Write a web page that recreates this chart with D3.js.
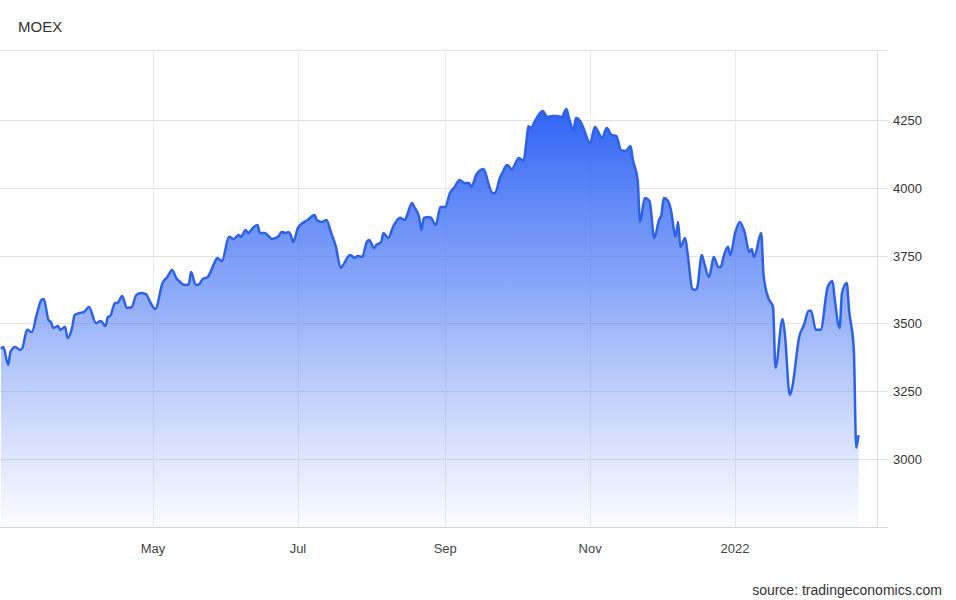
<!DOCTYPE html>
<html>
<head>
<meta charset="utf-8">
<script src="https://cdn.jsdelivr.net/npm/d3@7"></script>
<style>
  html, body { margin: 0; padding: 0; background: #fff; }
  svg { display: block; font-family: "Liberation Sans", Arial, sans-serif; }
</style>
</head>
<body>
<svg id="chart" width="956" height="600"></svg>
<script>
const title = "MOEX";
const sourceText = "source: tradingeconomics.com";

const dates = [
"2021-02-26","2021-02-27","2021-03-01","2021-03-02","2021-03-04","2021-03-06","2021-03-07","2021-03-09","2021-03-11","2021-03-13",
"2021-03-15","2021-03-16","2021-03-18","2021-03-19","2021-03-20","2021-03-22","2021-03-23","2021-03-25","2021-03-26","2021-03-28",
"2021-03-29","2021-03-31","2021-04-02","2021-04-04","2021-04-07","2021-04-09","2021-04-11","2021-04-12","2021-04-13","2021-04-15",
"2021-04-16","2021-04-18","2021-04-20","2021-04-22","2021-04-24","2021-04-26","2021-04-28","2021-04-30","2021-05-02","2021-05-05",
"2021-05-07","2021-05-09","2021-05-11","2021-05-12","2021-05-14","2021-05-16","2021-05-17","2021-05-19","2021-05-20","2021-05-22",
"2021-05-24","2021-05-27","2021-05-28","2021-05-30","2021-06-02","2021-06-04","2021-06-05","2021-06-06","2021-06-07","2021-06-09",
"2021-06-10","2021-06-12","2021-06-14","2021-06-15","2021-06-17","2021-06-19","2021-06-20","2021-06-23","2021-06-24","2021-06-26",
"2021-06-27","2021-06-28","2021-06-29","2021-07-01","2021-07-03","2021-07-05","2021-07-08","2021-07-09","2021-07-11","2021-07-13",
"2021-07-15","2021-07-17","2021-07-19","2021-07-20","2021-07-23","2021-07-25","2021-07-26","2021-07-28","2021-07-30","2021-07-31",
"2021-08-02","2021-08-03","2021-08-05","2021-08-06","2021-08-08","2021-08-10","2021-08-13","2021-08-15","2021-08-16","2021-08-18",
"2021-08-19","2021-08-21","2021-08-22","2021-08-23","2021-08-25","2021-08-26","2021-08-28","2021-08-30","2021-09-01","2021-09-03",
"2021-09-05","2021-09-07","2021-09-09","2021-09-11","2021-09-12","2021-09-14","2021-09-17","2021-09-18","2021-09-19","2021-09-21",
"2021-09-22","2021-09-24","2021-09-25","2021-09-27","2021-09-29","2021-10-02","2021-10-04","2021-10-05","2021-10-06","2021-10-07",
"2021-10-09","2021-10-12","2021-10-14","2021-10-16","2021-10-18","2021-10-20","2021-10-22","2021-10-23","2021-10-25","2021-10-26",
"2021-10-28","2021-10-29","2021-11-01","2021-11-03","2021-11-04","2021-11-06","2021-11-08","2021-11-10","2021-11-12","2021-11-14",
"2021-11-16","2021-11-18","2021-11-19","2021-11-21","2021-11-22","2021-11-24","2021-11-26","2021-11-28","2021-11-30","2021-12-01",
"2021-12-02","2021-12-04","2021-12-05","2021-12-07","2021-12-08","2021-12-09","2021-12-11","2021-12-12","2021-12-14","2021-12-15",
"2021-12-16","2021-12-18","2021-12-19","2021-12-21","2021-12-22","2021-12-23","2021-12-25","2021-12-26","2021-12-27","2021-12-29",
"2021-12-30","2022-01-01","2022-01-03","2022-01-05","2022-01-07","2022-01-08","2022-01-09","2022-01-12","2022-01-13","2022-01-15",
"2022-01-17","2022-01-18","2022-01-21","2022-01-22","2022-01-24","2022-01-25","2022-01-28","2022-01-30","2022-02-01","2022-02-02",
"2022-02-04","2022-02-06","2022-02-09","2022-02-11","2022-02-12","2022-02-14","2022-02-15","2022-02-17","2022-02-18","2022-02-20",
"2022-02-21","2022-02-22"
];

const values = [
3406,3413,3347,3395,3413,3402,3409,3476,3468,3531,
3586,3590,3512,3505,3483,3490,3476,3487,3446,3487,
3531,3538,3542,3560,3501,3509,3490,3524,3527,3575,
3575,3601,3557,3560,3605,3612,3608,3575,3553,3649,
3671,3697,3664,3656,3642,3642,3689,3642,3642,3664,
3671,3726,3741,3730,3819,3811,3819,3826,3819,3844,
3833,3852,3863,3833,3833,3819,3811,3822,3837,3833,
3837,3826,3800,3852,3870,3881,3900,3881,3874,3881,
3833,3782,3704,3715,3752,3741,3748,3745,3800,3807,
3778,3789,3800,3833,3815,3855,3889,3881,3900,3944,
3929,3892,3844,3889,3892,3889,3863,3929,3929,3981,
4003,4029,4018,4018,4003,4047,4069,4054,4021,3981,
3981,4036,4054,4084,4069,4110,4099,4158,4228,4220,
4250,4283,4261,4265,4265,4261,4290,4261,4213,4257,
4243,4224,4165,4224,4213,4184,4220,4195,4191,4139,
4136,4154,4102,4029,3874,3962,3951,3815,3881,3900,
3962,3948,3918,3819,3874,3782,3815,3760,3627,3623,
3630,3752,3723,3671,3704,3745,3708,3708,3741,3782,
3752,3833,3874,3837,3763,3774,3745,3833,3678,3594,
3560,3336,3516,3457,3236,3262,3450,3494,3546,3546,
3476,3476,3634,3656,3586,3483,3612,3649,3549,3402,
3041,3088
];

const yTicks = [3000, 3250, 3500, 3750, 4000, 4250];
const xTickDates = ["2021-05-01","2021-07-01","2021-09-01","2021-11-01","2022-01-01"];
const xTickLabels = ["May","Jul","Sep","Nov","2022"];

const parse = d3.timeParse("%Y-%m-%d");
const data = dates.map((d, i) => ({ date: parse(d), value: values[i] }));

const svg = d3.select("#chart");
const plot = { left: 0, right: 877, top: 50, bottom: 527 };

const x = d3.scaleTime()
  .domain([d3.timeHour.offset(parse("2021-02-25"), 14), d3.timeHour.offset(parse("2022-03-01"), 18)])
  .range([plot.left, plot.right]);
const y = d3.scaleLinear()
  .domain([2749, 4508])
  .range([plot.bottom, plot.top]);

// gradient
const defs = svg.append("defs");
const grad = defs.append("linearGradient")
  .attr("id", "areaGrad")
  .attr("gradientUnits", "userSpaceOnUse")
  .attr("x1", 0).attr("x2", 0)
  .attr("y1", y(4290)).attr("y2", plot.bottom);
grad.append("stop").attr("offset", "0%").attr("stop-color", "#2f63f5").attr("stop-opacity", 1);
grad.append("stop").attr("offset", "45%").attr("stop-color", "#4a78f5").attr("stop-opacity", 0.62);
grad.append("stop").attr("offset", "100%").attr("stop-color", "#6d8ff5").attr("stop-opacity", 0.03);

// horizontal grid
svg.append("g")
  .selectAll("line")
  .data(yTicks)
  .join("line")
  .attr("x1", plot.left).attr("x2", 888)
  .attr("y1", d => Math.round(y(d)) + 0.5).attr("y2", d => Math.round(y(d)) + 0.5)
  .attr("stroke", "#e3e3e3").attr("stroke-width", 1);

// top border
svg.append("line")
  .attr("x1", plot.left).attr("x2", 888)
  .attr("y1", plot.top + 0.5).attr("y2", plot.top + 0.5)
  .attr("stroke", "#e3e3e3");

// vertical grid
svg.append("g")
  .selectAll("line")
  .data(xTickDates)
  .join("line")
  .attr("x1", d => Math.round(x(parse(d))) + 0.5).attr("x2", d => Math.round(x(parse(d))) + 0.5)
  .attr("y1", plot.top).attr("y2", plot.bottom)
  .attr("stroke", "#ebebeb");

// right border
svg.append("line")
  .attr("x1", plot.right + 0.5).attr("x2", plot.right + 0.5)
  .attr("y1", plot.top).attr("y2", plot.bottom)
  .attr("stroke", "#e0e0e0");

// area
const area = d3.area()
  .x(d => x(d.date))
  .y0(plot.bottom)
  .y1(d => y(d.value))
  .curve(d3.curveMonotoneX);
svg.append("path")
  .datum(data)
  .attr("d", area)
  .attr("fill", "url(#areaGrad)");

// line
const line = d3.line()
  .x(d => x(d.date))
  .y(d => y(d.value))
  .curve(d3.curveMonotoneX);
svg.append("path")
  .datum(data)
  .attr("d", line)
  .attr("fill", "none")
  .attr("stroke", "#2e62e6")
  .attr("stroke-width", 2.5)
  .attr("stroke-linejoin", "round");

// bottom axis line
svg.append("line")
  .attr("x1", plot.left).attr("x2", 888)
  .attr("y1", plot.bottom + 0.5).attr("y2", plot.bottom + 0.5)
  .attr("stroke", "#d6d6d6");

// y labels
svg.append("g")
  .selectAll("text")
  .data(yTicks)
  .join("text")
  .attr("x", 893)
  .attr("y", d => y(d) + 5)
  .attr("font-size", 13)
  .attr("fill", "#333")
  .text(d => d);

// x labels
svg.append("g")
  .selectAll("text")
  .data(xTickDates)
  .join("text")
  .attr("x", d => x(parse(d)))
  .attr("y", 553)
  .attr("text-anchor", "middle")
  .attr("font-size", 13)
  .attr("fill", "#444")
  .text((d, i) => xTickLabels[i]);

// title
svg.append("text")
  .attr("x", 18).attr("y", 32)
  .attr("font-size", 15)
  .attr("fill", "#333")
  .text(title);

// source
svg.append("text")
  .attr("x", 942).attr("y", 595)
  .attr("text-anchor", "end")
  .attr("font-size", 14)
  .attr("fill", "#333")
  .text(sourceText);
</script>
</body>
</html>
